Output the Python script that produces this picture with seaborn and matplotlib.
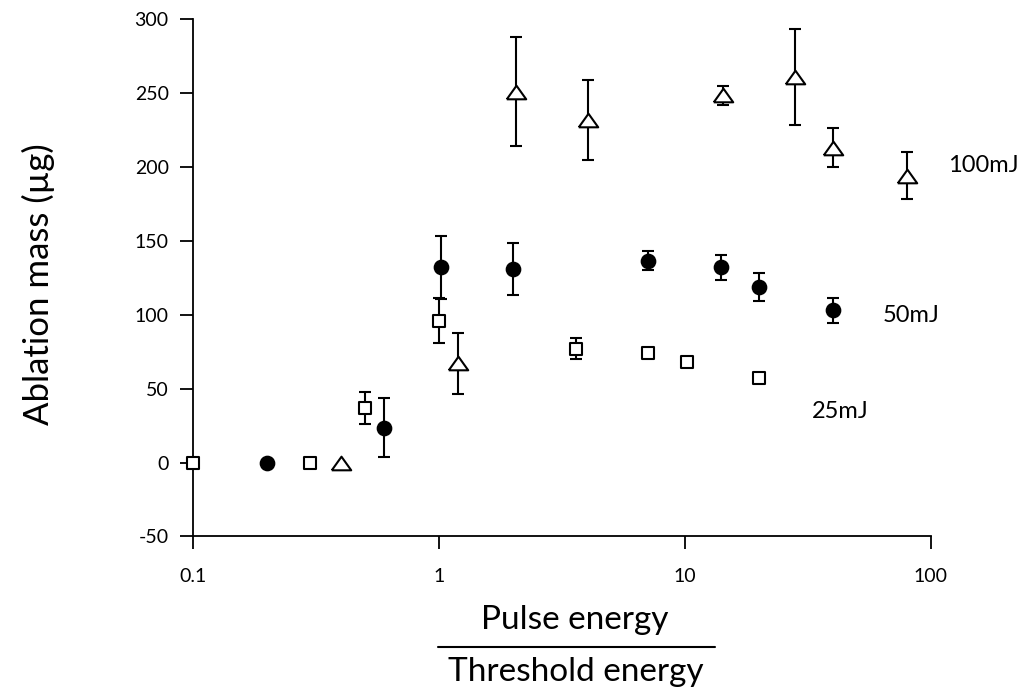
import numpy as np
import pandas as pd
import matplotlib.pyplot as plt
from matplotlib.lines import Line2D
import seaborn as sns

# Data
x_25 = [0.1, 0.3, 0.5, 1.0, 3.6, 7.1, 10.2, 20]
y_25 = [0, 0, 37, 96, 77, 74, 68, 57]
e_25 = [0, 0, 11, 15, 7, 0, 0, 0]

x_50 = [0.2, 0.6, 1.02, 2.0, 7.1, 14, 20, 40]
y_50 = [0, 23.5, 132, 131, 136.5, 132, 119, 103]
e_50 = [0, 20, 21.5, 17.5, 6.5, 8.5, 9.5, 8.5]

x_100 = [0.4, 1.2, 2.05, 4.05, 14.3, 28, 40, 80]
y_100 = [0, 67, 251, 232, 248.5, 261, 213, 194]
e_100 = [0, 20.5, 37, 27, 6.5, 32.5, 13, 16]

series_names = ['25mJ', '50mJ', '100mJ']
label_x = [32.7, 63.6, 117]
label_y = [34.4, 99.8, 201]

x_ticks = [0.1, 1, 10, 100]
x_ticklabels = ['0.1', '1', '10', '100']
y_ticks = [-50, 0, 50, 100, 150, 200, 250, 300]

df = pd.concat([
    pd.DataFrame({'x': x_25, 'y': y_25, 'err': e_25, 'series': '25mJ'}),
    pd.DataFrame({'x': x_50, 'y': y_50, 'err': e_50, 'series': '50mJ'}),
    pd.DataFrame({'x': x_100, 'y': y_100, 'err': e_100, 'series': '100mJ'}),
], ignore_index=True)

sns.set_style('ticks')
plt.rcParams['font.family'] = ['Lato', 'DejaVu Sans']
plt.rcParams['axes.unicode_minus'] = False
plt.rcParams['text.color'] = 'black'

fig = plt.figure(figsize=(10.24, 6.98), dpi=100)
ax = fig.add_axes([0.1885, 0.2315, 0.7205, 0.7411])

tri = [(-1, -0.7), (1, -0.7), (0, 0.7), (-1, -0.7)]
styles = {
    '25mJ': dict(marker='s', s=9.3 ** 2, facecolor='white'),
    '50mJ': dict(marker='o', s=9.8 ** 2, facecolor='black'),
    '100mJ': dict(marker=tri, s=14 ** 2, facecolor='white'),
}

for name in series_names:
    sub = df[df['series'] == name]
    sub_err = sub[sub['err'] > 0]
    ax.errorbar(sub_err['x'], sub_err['y'], yerr=sub_err['err'], fmt='none',
                ecolor='black', elinewidth=1.5, capsize=4, capthick=1.5, zorder=2)
    st = styles[name]
    sns.scatterplot(data=sub, x='x', y='y', ax=ax, marker=st['marker'], s=st['s'],
                    color=st['facecolor'], edgecolor='black', linewidth=1.5,
                    zorder=3, legend=False, clip_on=False)

for name, lx, ly in zip(series_names, label_x, label_y):
    ax.text(lx, ly, name, fontsize=17, va='center', ha='left', color='black')

ax.set_xscale('log')
ax.set_xlim(0.1, 100)
ax.set_ylim(-50, 300)
ax.set_xticks(x_ticks)
ax.set_xticklabels(x_ticklabels)
ax.xaxis.set_minor_locator(plt.NullLocator())
ax.set_yticks(y_ticks)
ax.set_xlabel('')
ax.set_ylabel('')
sns.despine(ax=ax)
for sp in ['left', 'bottom']:
    ax.spines[sp].set_linewidth(1.3)
    ax.spines[sp].set_color('black')
ax.tick_params(axis='both', direction='out', length=9.5, width=1.3, colors='black',
               labelsize=14)
ax.tick_params(axis='y', pad=8)
ax.tick_params(axis='x', pad=13)

fig.text(38 / 1024, 1 - 284 / 698, 'Ablation mass (µg)', rotation=90,
         fontsize=25, ha='center', va='center')
fig.text(575 / 1024, 1 - 620 / 698, 'Pulse energy', fontsize=24,
         ha='center', va='center')
fig.text(576 / 1024, 1 - 672 / 698, 'Threshold energy', fontsize=24,
         ha='center', va='center')
fig.add_artist(Line2D([438 / 1024, 715 / 1024], [1 - 647 / 698, 1 - 647 / 698],
                      transform=fig.transFigure, color='black', linewidth=1.5))

fig.savefig('out.png', dpi=100)
